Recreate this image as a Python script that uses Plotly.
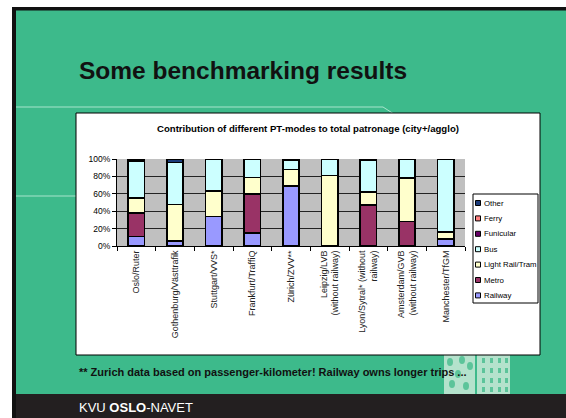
import plotly.graph_objects as go

# ---------------- data ----------------
cities = ["Oslo/Ruter", "Gothenburg/Västtrafik", "Stuttgart/VVS*", "Frankfurt/TraffiQ",
          "Zürich/ZVV**", "Leipzig/LVB<br>(without railway)", "Lyon/Sytral* (without<br>railway)",
          "Amsterdam/GVB<br>(without railway)", "Manchester/TfGM"]
railway    = [11, 6, 34, 15, 69, 0, 0, 0, 8]
metro      = [27, 0, 0, 45, 0, 0, 47, 28, 0]
light_rail = [17, 42, 29, 19, 19, 81, 15, 50, 8]
bus        = [43, 48, 37, 21, 11, 19, 37, 22, 84]
funicular  = [0, 0, 0, 0, 0, 0, 1, 0, 0]
ferry      = [0, 0, 0, 0, 0, 0, 0, 0, 0]
other      = [2, 4, 0, 0, 1, 0, 0, 0, 0]

series_names = ["Railway", "Metro", "Light Rail/Tram", "Bus", "Funicular", "Ferry", "Other"]
series_vals = [railway, metro, light_rail, bus, funicular, ferry, other]
series_colors = ["#9999FF", "#993366", "#FFFFCC", "#CCFFFF", "#660066", "#FF8080", "#1A3A7A"]
y_ticks = [0, 0.2, 0.4, 0.6, 0.8, 1.0]
y_ticklabels = ["0%", "20%", "40%", "60%", "80%", "100%"]

# ---------------- geometry helpers (pixel -> paper) ----------------
W, H = 566, 418
L, R, T, B = 117, 465, 159, 246
def px(x):
    return (x - L) / (R - L)
def py(y):
    return (B - y) / (B - T)

fig = go.Figure()
for name, vals, col in zip(series_names, series_vals, series_colors):
    fig.add_trace(go.Bar(
        x=cities, y=[v / 100 for v in vals], name=name,
        marker=dict(color=col, line=dict(color="black", width=1.5)),
        showlegend=False,
    ))

shapes = []
def rect(x0, y0, x1, y1, fill, line_color=None, lw=0):
    shapes.append(dict(type="rect", xref="paper", yref="paper",
                       x0=px(x0), x1=px(x1), y0=py(y1), y1=py(y0),
                       fillcolor=fill, layer="below",
                       line=dict(color=line_color or fill, width=lw)))

# slide background
rect(12, 7, 580, 430, "#111111")
rect(16, 10.5, 580, 394, "#3DBA8B")
rect(16, 394, 580, 430, "#231F20")
# decorative lines
shapes.append(dict(type="path", xref="paper", yref="paper", layer="below",
                   path=f"M {px(16)},{py(107)} L {px(383)},{py(107)} L {px(397)},{py(116)}",
                   line=dict(color="#A8E4CC", width=1)))
shapes.append(dict(type="line", xref="paper", yref="paper", layer="below",
                   x0=px(16), x1=px(76), y0=py(196), y1=py(196),
                   line=dict(color="#A8E4CC", width=1)))
# pictogram
rect(444, 352, 475, 394, "#B4E2CC")
rect(477, 352, 510, 394, "#B4E2CC")
for (cx, cy) in [(450, 362), (462, 360), (470, 366), (452, 384), (466, 386), (458, 374)]:
    shapes.append(dict(type="circle", xref="paper", yref="paper", layer="below",
                       x0=px(cx - 3), x1=px(cx + 3), y0=py(cy + 4), y1=py(cy - 4),
                       fillcolor="#5CC49A", line=dict(width=0)))
for gx in [482, 490, 498, 505]:
    for gy in [358, 368, 378, 387]:
        rect(gx, gy, gx + 3, gy + 5, "#5CC49A")
# chart box
rect(76, 113, 540, 355, "white", "black", 1)
# plot area background
rect(L, T, R, B, "#C0C0C0")
# legend box
rect(473, 194, 538, 303, "white", "black", 1)

annotations = []
# legend items (reverse order: Other on top)
for i, (name, col) in enumerate(zip(series_names[::-1], series_colors[::-1])):
    yc = 203 + i * 15.4
    rect(475.5, yc - 2.5, 480.5, yc + 2.5, col, "black", 1)
    annotations.append(dict(xref="paper", yref="paper", x=px(482), y=py(yc),
                            text=name, showarrow=False, xanchor="left", yanchor="middle",
                            font=dict(family="Arial", size=7.8, color="black")))

# texts
annotations.append(dict(xref="paper", yref="paper", x=px(77), y=py(71),
                        text="<b>Some benchmarking results</b>", showarrow=False,
                        xanchor="left", yanchor="middle",
                        font=dict(family="Arial", size=24.5, color="#111111")))
annotations.append(dict(xref="paper", yref="paper", x=px(308), y=py(128),
                        text="<b>Contribution of different PT-modes to total patronage (city+/agglo)</b>",
                        showarrow=False, xanchor="center", yanchor="middle",
                        font=dict(family="Arial", size=9.6, color="black")))
annotations.append(dict(xref="paper", yref="paper", x=px(77), y=py(372),
                        text="<b>** Zurich data based on passenger-kilometer! Railway owns longer trips ...</b>",
                        showarrow=False, xanchor="left", yanchor="middle",
                        font=dict(family="Arial", size=11, color="#111111")))
annotations.append(dict(xref="paper", yref="paper", x=px(77), y=py(407),
                        text="KVU <b>OSLO</b>-NAVET",
                        showarrow=False, xanchor="left", yanchor="middle",
                        font=dict(family="Arial", size=13, color="white")))

fig.update_layout(
    width=W, height=H,
    margin=dict(l=L, r=W - R, t=T, b=H - B, autoexpand=False),
    paper_bgcolor="white", plot_bgcolor="rgba(0,0,0,0)",
    barmode="stack", bargap=0.58,
    showlegend=False,
    shapes=shapes, annotations=annotations,
    font=dict(family="Arial", size=8, color="black"),
    xaxis=dict(showline=True, linecolor="black", linewidth=1, showgrid=False,
               ticks="outside", ticklen=4, tickcolor="black", tickson="boundaries",
               tickangle=-90, tickfont=dict(family="Arial", size=9, color="#222222"),
               automargin=False),
    yaxis=dict(range=[0, 1.0005], tickvals=y_ticks, ticktext=y_ticklabels,
               showline=True, linecolor="black", linewidth=1,
               showgrid=True, gridcolor="#222222", gridwidth=1, zeroline=False,
               ticks="outside", ticklen=4, tickcolor="black",
               tickfont=dict(family="Arial", size=8.5, color="black"), automargin=False),
)

fig.write_html("out.html", config={"displayModeBar": False},
               post_script="document.body.style.margin='0';document.body.style.overflow='hidden';")
